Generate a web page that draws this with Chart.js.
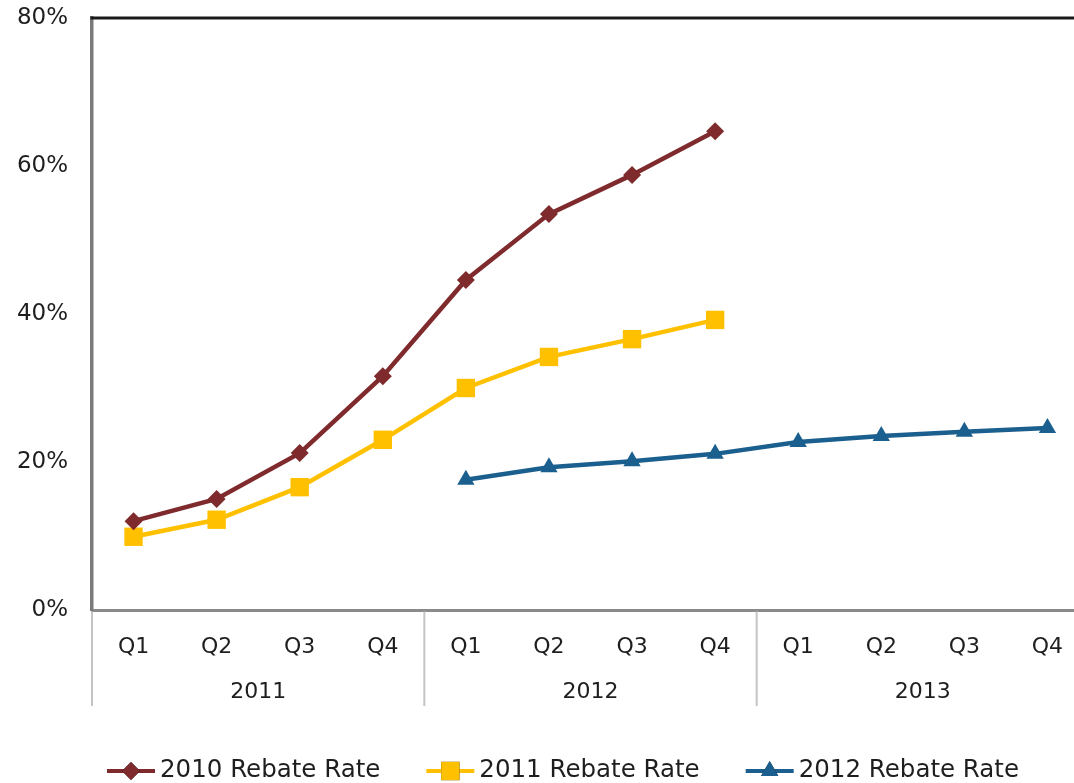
<!DOCTYPE html>
<html>
<head>
<meta charset="utf-8">
<script src="https://cdn.jsdelivr.net/npm/chart.js@4.4.1/dist/chart.umd.min.js"></script>
<style>
  html, body { margin: 0; padding: 0; background: #fff; overflow: hidden; }
  #wrap { width: 1102px; height: 783px; }
</style>
</head>
<body>
<div id="wrap"><canvas id="rebateChart" width="1102" height="783"></canvas></div>
<script>
// quarters along the bottom, grouped by year
const quarters = ['Q1', 'Q2', 'Q3', 'Q4', 'Q1', 'Q2', 'Q3', 'Q4', 'Q1', 'Q2', 'Q3', 'Q4'];
const years = ['2011', '2012', '2013'];
const yTicks = [0, 20, 40, 60, 80];

// rebate rates, percent
const rate2010 = [12, 15, 21.2, 31.6, 44.6, 53.5, 58.8, 64.7, null, null, null, null];
const rate2011 = [9.9, 12.2, 16.6, 23, 30, 34.2, 36.6, 39.2, null, null, null, null];
const rate2012 = [null, null, null, null, 17.6, 19.3, 20.1, 21.1, 22.7, 23.5, 24.1, 24.6];

const FONT = 'DejaVu Sans, Verdana, sans-serif';
const TEXT = '#1e1e1e';

// year labels + separators under the quarter ticks, and the top frame line
const frameAndYears = {
    id: 'frameAndYears',
    afterDraw(chart) {
        const ctx = chart.ctx;
        const area = chart.chartArea;
        const x = chart.scales.x;
        const step = x.getPixelForValue(1) - x.getPixelForValue(0);

        ctx.save();
        ctx.strokeStyle = '#1a1a1a';
        ctx.lineWidth = 3;
        ctx.beginPath();
        ctx.moveTo(area.left - 1.5, area.top);
        ctx.lineTo(area.right + 2, area.top);
        ctx.stroke();

        ctx.strokeStyle = '#c4c4c4';
        ctx.lineWidth = 2;
        for (let k = 0; k <= years.length; k++) {
            const bx = x.getPixelForValue(k * 4) - step / 2;
            ctx.beginPath();
            ctx.moveTo(bx, area.bottom + 1.5);
            ctx.lineTo(bx, area.bottom + 96);
            ctx.stroke();
        }

        ctx.fillStyle = TEXT;
        ctx.font = '22px ' + FONT;
        ctx.textAlign = 'center';
        ctx.textBaseline = 'middle';
        years.forEach((yr, k) => {
            const cx = (x.getPixelForValue(k * 4) + x.getPixelForValue(k * 4 + 3)) / 2;
            ctx.fillText(yr, cx, area.bottom + 82);
        });
        ctx.restore();
    }
};

// legend with a line and marker sample, drawn along the bottom
const lineLegend = {
    id: 'lineLegend',
    afterDraw(chart) {
        const ctx = chart.ctx;
        const y = 771;
        let xPos = 107;
        ctx.save();
        ctx.font = '24.5px ' + FONT;
        ctx.textBaseline = 'middle';
        chart.data.datasets.forEach(ds => {
            ctx.strokeStyle = ds.borderColor;
            ctx.lineWidth = 4;
            ctx.beginPath();
            ctx.moveTo(xPos, y);
            ctx.lineTo(xPos + 48, y);
            ctx.stroke();
            Chart.helpers.drawPoint(ctx, {
                pointStyle: ds.pointStyle,
                radius: ds.pointRadius,
                borderWidth: 0
            }, xPos + 24, y);
            ctx.fillStyle = ds.borderColor;
            ctx.fill();
            ctx.fillStyle = TEXT;
            ctx.fillText(ds.label, xPos + 53, y);
            xPos += 53 + ctx.measureText(ds.label).width + 46;
        });
        ctx.restore();
    }
};

function series(label, data, color, style, radius) {
    return {
        label: label,
        data: data,
        borderColor: color,
        backgroundColor: color,
        borderWidth: 4.5,
        pointStyle: style,
        pointRadius: radius,
        pointBorderWidth: 0,
        pointBackgroundColor: color,
        tension: 0,
        spanGaps: false
    };
}

const ctx = document.getElementById('rebateChart').getContext('2d');
new Chart(ctx, {
    type: 'line',
    data: {
        labels: quarters,
        datasets: [
            series('2010 Rebate Rate', rate2010, '#7f2a2c', 'rectRot', 9),
            series('2011 Rebate Rate', rate2011, '#ffc000', 'rect', 13),
            series('2012 Rebate Rate', rate2012, '#1b5f8e', 'triangle', 10)
        ]
    },
    options: {
        responsive: false,
        animation: false,
        layout: { padding: { left: 0, top: 18, right: 0, bottom: 0 } },
        plugins: {
            legend: { display: false },
            tooltip: { enabled: false }
        },
        scales: {
            x: {
                offset: true,
                grid: { display: false, drawTicks: false },
                border: { color: '#8a8a8a', width: 3 },
                ticks: {
                    color: TEXT,
                    font: { family: FONT, size: 22 },
                    padding: 24,
                    maxRotation: 0,
                    autoSkip: false
                },
                afterFit(scale) {
                    scale.height = 173;
                    scale.paddingLeft = 0;
                    scale.paddingRight = 0;
                }
            },
            y: {
                min: 0,
                max: 80,
                afterBuildTicks(scale) {
                    scale.ticks = yTicks.map(v => ({ value: v }));
                },
                grid: { display: false, drawTicks: false },
                border: { color: '#7a7a7a', width: 3.5 },
                ticks: {
                    color: TEXT,
                    font: { family: FONT, size: 23 },
                    padding: 24,
                    callback: v => v + '%'
                },
                afterFit(scale) {
                    scale.width = 92;
                    scale.paddingTop = 0;
                    scale.paddingBottom = 0;
                }
            }
        }
    },
    plugins: [frameAndYears, lineLegend]
});
</script>
</body>
</html>
